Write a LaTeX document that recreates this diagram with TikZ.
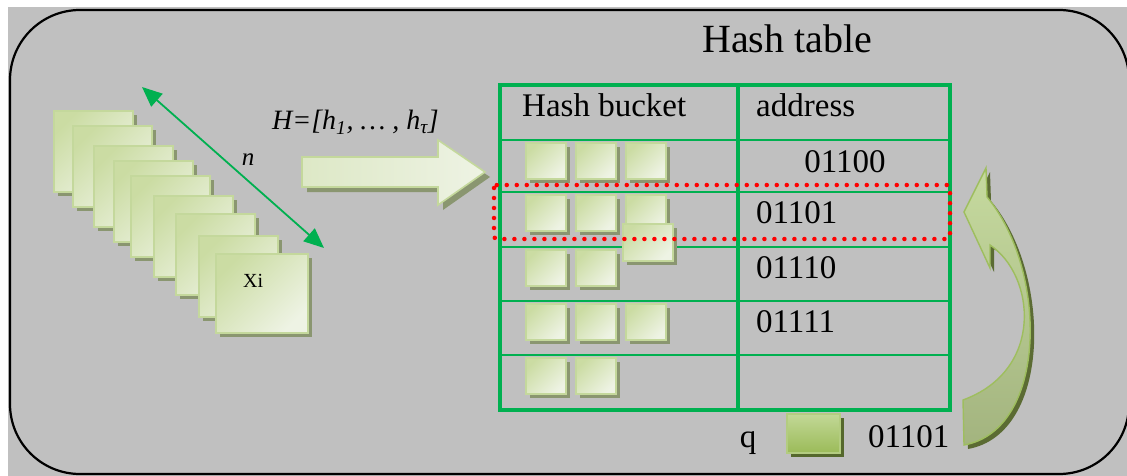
\documentclass[tikz,border=0pt]{standalone}
\usepackage{fontspec}
\setmainfont{Liberation Serif}
\usetikzlibrary{arrows.meta,shadows}

\definecolor{bggray}{HTML}{C0C0C0}
\definecolor{tgreen}{HTML}{00B050}
\definecolor{sqA}{HTML}{CBDCA3}
\definecolor{sqB}{HTML}{EEF3E4}
\definecolor{sqC}{HTML}{DDE8C6}
\definecolor{sqborder}{HTML}{C4D89C}
\definecolor{sqshadow}{HTML}{8A9670}
\definecolor{qA}{HTML}{C2D897}
\definecolor{qB}{HTML}{9BBB59}
\definecolor{qborder}{HTML}{B3CC80}
\definecolor{qshadow}{HTML}{55682C}
\definecolor{caA}{HTML}{C6DA9F}
\definecolor{caB}{HTML}{A3B47F}
\definecolor{caborder}{HTML}{9EBE5E}
\definecolor{cashadow}{HTML}{5B6B33}

\tikzset{
  sqbox/.style={draw=sqborder, line width=1.6pt, inner sep=0pt, anchor=north west,
    left color=sqA, right color=sqB, shading angle=45,
    drop shadow={shadow xshift=4pt, shadow yshift=-4pt, fill=sqshadow, opacity=1}},
  bigsq/.style={sqbox, minimum width=79pt, minimum height=81pt},
  smallsq/.style={sqbox, minimum width=40pt, minimum height=36pt},
  qbox/.style={draw=qborder, line width=1.6pt, inner sep=0pt, anchor=north west,
    top color=qA, bottom color=qB, minimum width=53pt, minimum height=39pt,
    drop shadow={shadow xshift=4pt, shadow yshift=-4pt, fill=qshadow, opacity=1}},
  tfont/.style={font=\fontsize{33}{36}\selectfont},
  thick line/.style={tgreen, line width=4pt},
  thin line/.style={tgreen, line width=2pt},
  blockarrow/.style={draw=sqborder, line width=1.6pt, left color=sqC, right color=sqB,
    drop shadow={shadow xshift=5pt, shadow yshift=-5pt, fill=sqshadow, opacity=1}},
  curvearrow/.style={draw=caborder, line width=1.4pt, top color=caA, bottom color=caB,
    drop shadow={shadow xshift=4pt, shadow yshift=-4pt, fill=cashadow, opacity=1}},
  dblarrow/.style={tgreen, line width=1.8pt,
    {Triangle[length=20pt,width=17pt]}-{Triangle[length=20pt,width=17pt]}},
  selbox/.style={red, line width=4.5pt, line cap=round, dash pattern=on 0pt off 10pt, rounded corners=3pt}
}

\begin{document}
\begin{tikzpicture}[x=1pt,y=-1pt]
\useasboundingbox (0,0) rectangle (1127,476);
% background
\fill[bggray] (8,7) rectangle (1127,476);
\draw[line width=2.2pt, rounded corners=70pt] (10,10) rectangle (1129,474);

% title
\node[font=\fontsize{40}{44}\selectfont, anchor=base west, inner sep=0pt] (title) at (702,53) {Hash table};

% stack of samples
\node[bigsq] (s1) at (53,110) {};
\node[bigsq] (s2) at (72,125) {};
\node[bigsq] (s3) at (93,145) {};
\node[bigsq] (s4) at (113,160) {};
\node[bigsq] (s5) at (130,175) {};
\node[bigsq] (s6) at (153,195) {};
\node[bigsq] (s7) at (175,213) {};
\node[bigsq] (s8) at (198,235) {};
\node[sqbox, minimum width=92pt, minimum height=79pt] (s9) at (215,253) {};
\node[font=\fontsize{20}{22}\selectfont, anchor=base west, inner sep=0pt] (xi) at (243,287) {Xi};

% n double arrow
\coordinate (na) at (142,87);
\coordinate (nb) at (324,248);
\draw[dblarrow] (na) -- (nb);
\node[font=\fontsize{25}{27}\selectfont\itshape, anchor=base, inner sep=0pt] (nl) at (248,165) {n};

% hash functions label and block arrow
\node[font=\fontsize{28}{30}\selectfont\itshape, anchor=base west, inner sep=0pt] (hf) at (272,130) {H=[h\textsubscript{1}, … , h\textsubscript{τ}]};
\path[blockarrow] (302,157) -- (438,157) -- (438,140) -- (485,172) -- (438,205) -- (438,187) -- (302,187) -- cycle;

% table
\draw[thin line] (500,140) -- (950,140);
\draw[thin line] (500,192) -- (950,192);
\draw[thin line] (500,247) -- (950,247);
\draw[thin line] (500,301) -- (950,301);
\draw[thin line] (500,355) -- (950,355);
\draw[thick line] (500,85) rectangle (950,410);
\draw[thick line] (738,85) -- (738,410);

\node[tfont, anchor=base west, inner sep=0pt] (hb) at (522,117) {Hash bucket};
\node[tfont, anchor=base west, inner sep=0pt] (ad) at (756,117) {address};
\node[tfont, anchor=base, inner sep=0pt] (a1) at (845,172) {01100};
\node[tfont, anchor=base west, inner sep=0pt] (a2) at (756,223) {01101};
\node[tfont, anchor=base west, inner sep=0pt] (a3) at (756,278) {01110};
\node[tfont, anchor=base west, inner sep=0pt] (a4) at (756,332) {01111};

% bucket items
\node[smallsq] (b11) at (525,142) {};
\node[smallsq] (b12) at (575,142) {};
\node[smallsq] (b13) at (625,142) {};
\node[smallsq] (b21) at (525,194) {};
\node[smallsq] (b22) at (575,194) {};
\node[smallsq] (b23) at (625,194) {};
\node[smallsq, minimum width=50pt, minimum height=37pt] (bx) at (622,223) {};
\node[smallsq] (b31) at (525,249) {};
\node[smallsq] (b32) at (575,249) {};
\node[smallsq] (b41) at (525,303) {};
\node[smallsq] (b42) at (575,303) {};
\node[smallsq] (b43) at (625,303) {};
\node[smallsq] (b51) at (525,357) {};
\node[smallsq] (b52) at (575,357) {};

% selected bucket
\draw[selbox] (494,185) rectangle (950,239);

% query
\node[tfont, anchor=base, inner sep=0pt] (ql) at (748,447) {q};
\node[qbox] (qs) at (786,413) {};
\node[tfont, anchor=base west, inner sep=0pt] (qc) at (868,447) {01101};

% curved arrow
\path[curvearrow] (986,168) -- (964,212) -- (990,268) -- (990,245)
  .. controls (1035,275) and (1045,370) .. (963,400) -- (964,445)
  .. controls (1048,430) and (1048,270) .. (987,197) -- cycle;
\end{tikzpicture}
\end{document}
